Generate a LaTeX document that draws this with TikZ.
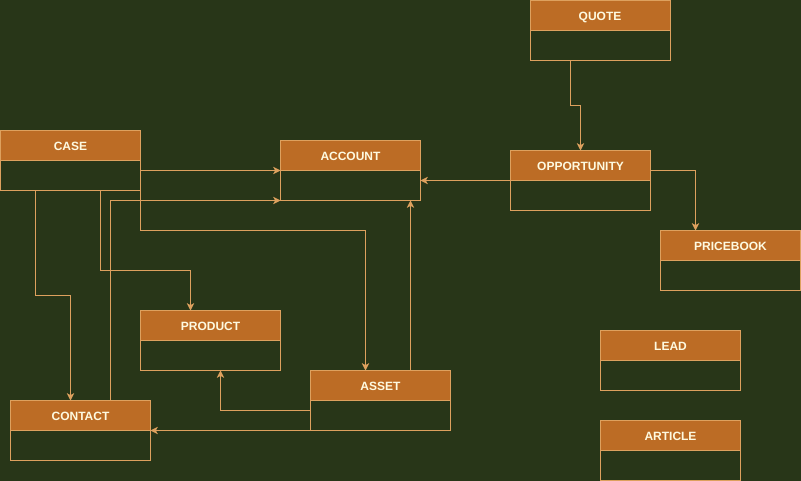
\documentclass[tikz,border=0pt]{standalone}
\usepackage{fontspec}
\setmainfont{Liberation Sans}
\usetikzlibrary{calc,arrows.meta}
\definecolor{bgc}{HTML}{283618}
\definecolor{headc}{HTML}{BC6C25}
\definecolor{strokec}{HTML}{DDA15E}
\definecolor{textc}{HTML}{FEFAE0}
\tikzset{
  body/.style={draw=strokec, line width=0.75pt, rectangle, minimum width=105pt, minimum height=45pt, inner sep=0pt, outer sep=0pt, anchor=north west},
  head/.style={draw=strokec, fill=headc, line width=0.75pt, rectangle, minimum width=105pt, minimum height=22.5pt, inner sep=0pt, outer sep=0pt, anchor=north west, text=textc, text height=8pt, text depth=0pt, font=\bfseries\fontsize{9pt}{11pt}\selectfont},
  conn/.style={draw=strokec, line width=0.75pt, -{Stealth[length=5.5pt,width=5.5pt,inset=1.5pt]}},
}
\newcommand{\cls}[4]{%
  \node[body] (#1) at (#2,#3) {};
  \node[head] (#1-h) at (#1.north west) {#4};
}
\begin{document}
\begin{tikzpicture}[x=0.75pt,y=-0.75pt]
\fill[bgc] (0,0) rectangle (801,481);
\useasboundingbox (0,0) rectangle (801,481);
\cls{quote}{530}{0.5}{QUOTE}
\cls{case}{0.5}{130.5}{CASE}
\cls{acc}{280.5}{140.5}{ACCOUNT}
\cls{opp}{510.5}{150.5}{OPPORTUNITY}
\cls{price}{660.5}{230.5}{PRICEBOOK}
\cls{product}{140.5}{310.5}{PRODUCT}
\cls{lead}{600.5}{330.5}{LEAD}
\cls{asset}{310.5}{370.5}{ASSET}
\cls{contact}{10.5}{400.5}{CONTACT}
\cls{article}{600.5}{420.5}{ARTICLE}
% connectors
\draw[conn] ($(quote.south west)+(40,0)$) -- ++(0,45) -| (opp.north);
\draw[conn] ($(opp.north east)+(0,20)$) -| ($(price.north west)+(35,0)$);
\draw[conn] (opp.west) -- (opp.west -| acc.east);
\draw[conn] (case.east |- acc.west) -- (acc.west);
\draw[conn] ($(contact.north west)+(100,0)$) |- (acc.south west);
\draw[conn] ($(case.south west)+(35,0)$) -- ++(0,105) -| ($(contact.north west)+(60,0)$);
\draw[conn] ($(case.south west)+(100,0)$) -- ++(0,80) -| ($(product.north west)+(50,0)$);
\draw[conn] (case.south east) -- ++(0,40) -| ($(asset.north west)+(55,0)$);
\draw[conn] ($(asset.north west)+(100,0)$) -- ($(acc.south west)+(130,0)$);
\draw[conn] ($(asset.north west)+(0,40)$) -| ($(product.south west)+(80,0)$);
\draw[conn] (asset.south west) -- ($(contact.north east)+(0,30)$);
\end{tikzpicture}
\end{document}
